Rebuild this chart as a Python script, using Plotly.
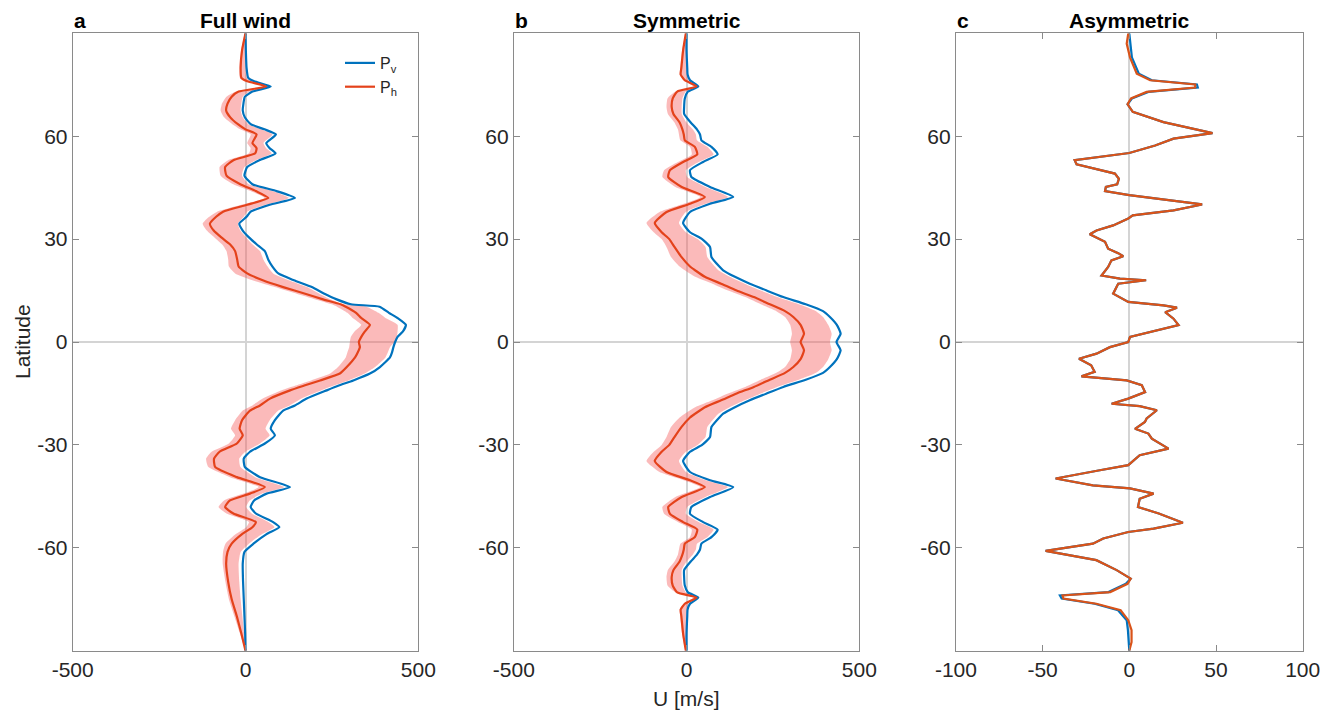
import plotly.graph_objects as go

# ---------------- Panel a: Full wind ----------------
lat_a = [90, 85, 80, 77, 76, 74.5, 73, 71.5, 69.5, 67.5,
         65.5, 63.5, 62, 60.5, 58, 56.5, 55, 53, 51, 48.5,
         46, 44, 42, 40, 38, 36.5, 34.5, 32.5, 30.5, 28.5,
         26.5, 24, 22, 20, 18, 16, 14, 12.5, 11, 10.3,
         8.5, 7, 5, 3, 1.5, 0,
         -1.5, -3, -4.5, -7.3, -9.2, -11.2, -12.7, -14.1, -16.5, -18.5,
         -20, -22.8, -25.3, -27.2, -29.6, -32, -34, -36.4, -39.4, -42.3,
         -44.2, -46.2, -48.1, -50, -52.5, -54, -56, -58.8, -61.2, -64.6,
         -70, -75, -80, -85, -90]
pv_a = [0, 1, 3, 8, 25, 73, 20, -2, -6, -8,
        -2, 15, 55, 88, 60, 70, 87, 40, 5, -3,
        20, 90, 143, 70, 15, 3, -18, -8, 10, 32,
        56, 66, 78, 95, 140, 192, 230, 262, 305, 388,
        415, 440, 464, 455, 440, 433,
        428, 424, 418, 389, 360, 312, 270, 235, 177, 143,
        109, 85, 73, 85, 56, 13, -5, -2, 42, 129,
        61, 25, 15, 30, 80, 98, 61, 23, -3, -8,
        -7, -5, -3, -1, 0]
ph_a = [0, -10, -14, -12, 5, 60, -20, -40, -52, -56,
        -44, -22, 0, 32, 20, 32, 28, -35, -59, -55,
        -15, 30, 66, 5, -65, -85, -103, -92, -70, -45,
        -30, -24, -20, 5, 50, 109, 175, 222, 275, 290,
        320, 335, 360, 345, 335, 328,
        331, 325, 317, 293, 273, 216, 170, 129, 71, 42,
        13, -10, -17, -8, -25, -75, -91, -88, -25, 56,
        13, -45, -59, -35, 30, 20, -10, -40, -52, -56,
        -50, -40, -25, -12, 0]
lo_a = [-2, -13, -18, -16, 0, 55, -28, -55, -68, -72,
        -62, -38, -15, 15, 5, 15, 10, -50, -75, -72,
        -35, 15, 55, -12, -82, -105, -124, -112, -90, -68,
        -55, -50, -48, -30, 20, 85, 150, 200, 250, 265,
        295, 310, 335, 315, 305, 302,
        300, 295, 290, 268, 245, 190, 145, 105, 50, 20,
        -8, -30, -42, -30, -48, -98, -114, -108, -45, 38,
        -5, -62, -78, -55, 10, 2, -28, -58, -65, -66,
        -58, -48, -32, -16, 0]
hi_a = [0, 0, 0, 3, 18, 68, 12, -8, -12, -14,
        -8, 8, 45, 78, 52, 60, 76, 30, -3, -10,
        10, 78, 125, 58, 5, -5, -22, -15, 2, 20,
        42, 52, 64, 80, 125, 178, 215, 245, 285, 350,
        385, 405, 440, 440, 438, 432,
        418, 412, 405, 375, 345, 298, 255, 220, 162, 128,
        95, 70, 58, 70, 42, 0, -18, -15, 28, 112,
        48, 12, 2, 18, 66, 84, 48, 10, -14, -20,
        -18, -14, -9, -4, 0]

# ---------------- Panel b: Symmetric (north half, mirrored about the equator) ----------------
lat_b_n = [90, 85, 80, 78, 76.3, 74.5, 73, 71, 68.5, 66.5,
           64, 62, 60.5, 58.8, 56.9, 54.7, 52.5, 50.1, 48.1, 45.2,
           42.3, 40.3, 37.9, 34.7, 32, 30, 27.7, 24.8, 22, 20.9,
           19, 17, 15, 13.1, 11, 9, 7.3, 5, 2.4, 0]
pv_b_n = [0, 0, 2, 3, 10, 34, 4, -5, -7, -7,
          12, 30, 39, 43, 72, 90, 48, 10, 14, 68,
          135, 68, 10, -10, 10, 45, 68, 72, 95, 106,
          140, 183, 232, 280, 345, 395, 415, 435, 446, 434]
ph_b_n = [-2, -10, -15, -17, -5, 29, -27, -40, -43, -38,
          -20, -12, -8, -5, 24, 31, -10, -48, -53, -14,
          53, 10, -58, -92, -72, -50, -35, -15, 10, 25,
          53, 100, 145, 195, 241, 285, 309, 330, 340, 330]
lo_b_n = [-3, -13, -18, -20, -8, 20, -32, -55, -58, -54,
          -35, -25, -22, -18, 10, 15, -25, -65, -70, -32,
          40, -8, -78, -116, -95, -72, -58, -45, -20, -5,
          25, 75, 120, 170, 215, 260, 285, 300, 305, 300]
hi_b_n = [0, 0, 0, 0, 5, 28, -2, -12, -14, -14,
          0, 18, 27, 30, 60, 78, 35, -2, 2, 55,
          120, 55, -2, -22, -2, 32, 55, 60, 82, 92,
          125, 168, 215, 262, 325, 375, 395, 410, 420, 415]

# ---------------- Panel c: Asymmetric ----------------
lat_c = [90, 87, 83, 78.2, 76.3, 75.1, 74.2, 72.9, 71, 69.3,
         67.1, 64.1, 61.7, 60.9, 59.3, 57.3, 55.1, 53.9, 53, 51.8,
         49.1, 47.6, 46, 45.2, 44, 42.8, 41.8, 40.1, 38.4, 36.9,
         36, 34, 32.5, 31.4, 29.2, 27.2, 25.9, 25, 23.8, 21.9,
         19.4, 18.5, 18, 17, 14.1, 11.7, 10.7, 10, 8.7, 6.8,
         4.9, 2.9, 1.5, 0, -1.5, -3.4, -4.9, -6.8, -8.7, -10,
         -11.2, -12.6, -14.6, -16.5, -18, -18.7, -19.9, -22.3, -23.3, -25.3,
         -26.7, -28.2, -31.1, -33, -35.9, -37.4, -39.8, -41.8, -42.7, -44.2,
         -45.7, -48.1, -50, -52.7, -54.4, -55.4, -57.3, -58.8, -60.9, -63.6,
         -66.5, -69, -70.5, -72.9, -73.9, -74.8, -76.3, -78.2, -81.1, -84,
         -87.5, -90]
ph_c = [-0.6, -1.5, 0.4, 4.3, 12, 38, 38, 10, 1, -1,
        2, 19.7, 41, 48, 25.5, 14.9, 0, -17, -31.5, -30.4,
        -8.3, -6, -7, -13.5, -14, 0, 15.9, 42, 25.5, 2,
        -0.6, -9.3, -18.9, -22.8, -14, -12.2, -6.4, -3.5, -10.3, -12.2,
        -16, -5.4, 9.7, -6.4, -9.3, -0.6, 19.7, 27.5, 20.7, 25.5,
        28.4, 12, 0.4, -0.6, -11.2, -18.9, -29, -22, -20, -27.6,
        -1.5, 7.2, 9.1, -0.6, -10.2, 6, 15.9, 10, 9, 3.3,
        11, 13, 22.6, 6, -0.6, -17, -42.5, -21, 0.4, 14,
        6, 5, 17, 30.9, 14, -0.6, -15, -21, -48.3, -19,
        -7.3, 0.8, -1, -11, -38.5, -38, -19, -5, -0.6, 1.3,
        1.3, 0]
pv_c = [0, 0.5, 1.5, 5.5, 13, 39, 39.5, 11, 1.5, -1,
        2, 19.7, 41, 48, 25.5, 14.9, 0, -17, -31.5, -30.4,
        -8.3, -6, -7, -13.5, -14, 0, 15.9, 42, 25.5, 2,
        -0.6, -9.3, -18.9, -22.8, -14, -12.2, -6.4, -3.5, -10.3, -12.2,
        -16, -5.4, 9.7, -6.4, -9.3, -0.6, 19.7, 27.5, 20.7, 25.5,
        28.4, 12, 0.4, -0.6, -11.2, -18.9, -29, -22, -20, -27.6,
        -1.5, 7.2, 9.1, -0.6, -10.2, 6, 15.9, 10, 9, 3.3,
        11, 13, 22.6, 6, -0.6, -17, -42.5, -21, 0.4, 14,
        6, 5, 17, 30.9, 14, -0.6, -15, -21, -48.3, -19,
        -7.3, 0.8, -2, -12, -40, -39, -20, -6.5, -1.5, -0.8,
        -0.2, 0]

x_ticks_ab = [-500, 0, 500]
x_ticks_c = [-100, -50, 0, 50, 100]
y_ticks = [-60, -30, 0, 30, 60]
titles = ["Full wind", "Symmetric", "Asymmetric"]
letters = ["a", "b", "c"]


def mirror(north, neg=False):
    south = list(reversed(north[:-1]))
    if neg:
        south = [-v for v in south]
    return north + south


lat_b = mirror(lat_b_n, neg=True)
pv_b = mirror(pv_b_n)
ph_b = mirror(ph_b_n)
lo_b = mirror(lo_b_n)
hi_b = mirror(hi_b_n)

BLUE = "#0072BD"
RED = "#E4421B"
ORANGE = "#D95319"
BAND = "rgba(245,90,90,0.42)"

fig = go.Figure()


def add_panel(k, lat, pv, ph, lo=None, hi=None, red=RED, legend=False, smooth=False):
    xa = "x" if k == 1 else f"x{k}"
    ya = "y" if k == 1 else f"y{k}"
    shp = dict(shape="spline", smoothing=0.5) if smooth else dict(shape="linear")
    if lo is not None:
        fig.add_trace(go.Scatter(
            x=list(lo) + list(reversed(hi)), y=list(lat) + list(reversed(lat)),
            fill="toself", fillcolor=BAND, line=dict(width=0, **shp),
            mode="lines", hoverinfo="skip", showlegend=False, xaxis=xa, yaxis=ya))
    fig.add_trace(go.Scatter(x=pv, y=lat, mode="lines", name="P<sub>v</sub>",
                             line=dict(color=BLUE, width=2.2, **shp), showlegend=legend,
                             xaxis=xa, yaxis=ya))
    fig.add_trace(go.Scatter(x=ph, y=lat, mode="lines", name="P<sub>h</sub>",
                             line=dict(color=red, width=2.2, **shp), showlegend=legend,
                             xaxis=xa, yaxis=ya))


add_panel(1, lat_a, pv_a, ph_a, lo_a, hi_a, legend=True, smooth=True)
add_panel(2, lat_b, pv_b, ph_b, lo_b, hi_b, smooth=True)
add_panel(3, lat_c, pv_c, ph_c, red=ORANGE)

# the page shows the figure offset by the default 8px body margin
OFF = 8
W, H = 1341 - OFF, 711 - OFF


def px(x):
    return (x - OFF) / W


def py(y):
    return 1 - (y - OFF) / H


x_doms = [(px(72.7), px(418.3)), (px(513.8), px(859.3)), (px(955.9), px(1302.7))]
y_dom = (py(650.7), py(33.3))

FONT = "Liberation Sans, Arial, sans-serif"
tickfont = dict(family=FONT, size=21, color="#262626")
axcommon = dict(showline=True, linecolor="#8a8a8a", linewidth=1, mirror="ticks",
                ticks="inside", ticklen=6, tickcolor="#8a8a8a", tickwidth=1,
                showgrid=False, zeroline=True, zerolinecolor="#d4d4d4", zerolinewidth=1.5,
                tickfont=tickfont, automargin=False, fixedrange=True)

layout = dict(width=W, height=H, margin=dict(l=0, r=0, t=0, b=0),
              paper_bgcolor="white", plot_bgcolor="white",
              showlegend=True,
              legend=dict(x=px(340), y=py(46), xanchor="left", yanchor="top",
                          bgcolor="rgba(0,0,0,0)", borderwidth=0,
                          font=dict(family=FONT, size=16, color="#262626"),
                          tracegroupgap=0))
for i in range(3):
    sfx = "" if i == 0 else str(i + 1)
    rng = [-500, 500] if i < 2 else [-100, 100]
    tv = x_ticks_ab if i < 2 else x_ticks_c
    layout["xaxis" + sfx] = dict(domain=list(x_doms[i]), range=rng, tickvals=tv,
                                 ticktext=[str(v) for v in tv],
                                 anchor="y" + sfx, **axcommon)
    layout["yaxis" + sfx] = dict(domain=list(y_dom), range=[-90, 90], tickvals=y_ticks,
                                 ticktext=[str(v) for v in y_ticks],
                                 anchor="x" + sfx, **axcommon)
fig.update_layout(**layout)

ann = []
for i in range(3):
    x0, x1 = x_doms[i]
    ann.append(dict(text=f"<b>{titles[i]}</b>", x=(x0 + x1) / 2, y=1.0,
                    xref="paper", yref="paper", xanchor="center", yanchor="top", borderpad=0,
                    showarrow=False, font=dict(family=FONT, size=21, color="black")))
    ann.append(dict(text=f"<b>{letters[i]}</b>", x=x0, y=1.0,
                    xref="paper", yref="paper", xanchor="left", yanchor="top", borderpad=0,
                    showarrow=False, font=dict(family=FONT, size=21, color="black")))
ann.append(dict(text="Latitude", x=px(22), y=(y_dom[0] + y_dom[1]) / 2, textangle=-90,
                xref="paper", yref="paper", xanchor="center", yanchor="middle", showarrow=False,
                font=tickfont))
ann.append(dict(text="U [m/s]", x=(x_doms[1][0] + x_doms[1][1]) / 2, y=py(698),
                xref="paper", yref="paper", xanchor="center", yanchor="middle", showarrow=False,
                font=tickfont))
fig.update_layout(annotations=ann)

fig.write_html("out.html")
